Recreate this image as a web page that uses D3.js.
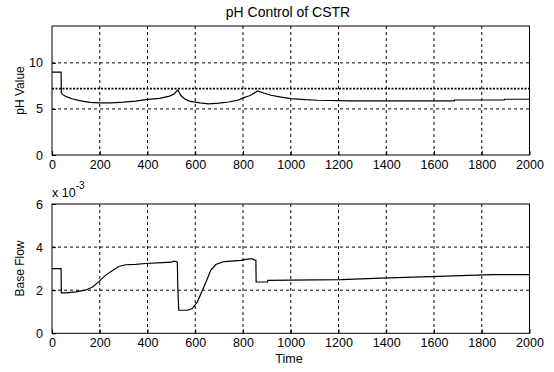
<!DOCTYPE html>
<html>
<head>
<meta charset="utf-8">
<script src="https://cdn.jsdelivr.net/npm/d3@7"></script>
<style>
  html, body { margin: 0; padding: 0; background: #fff; }
  svg { display: block; }
  text { font-family: "Liberation Sans", Arial, sans-serif; fill: #000; }
</style>
</head>
<body>
<svg id="chart" width="554" height="372"></svg>
<script>
// pH response of the CSTR over time
const phTime = [0, 38, 39, 45, 55, 68, 84, 120, 160, 200, 250, 300, 350, 392, 450, 489, 510, 527,
  540, 555, 575, 620, 655, 700, 740, 780, 800, 830, 861, 890, 917, 960, 1001, 1060, 1113, 1253,
  1500, 1685, 1686, 1895, 1896, 2000];
const phValue = [9, 9, 6.75, 6.55, 6.4, 6.25, 6.1, 5.88, 5.72, 5.65, 5.65, 5.73, 5.85, 6.0, 6.15, 6.37, 6.6, 7.05,
  6.45, 6.1, 5.85, 5.65, 5.55, 5.62, 5.75, 5.95, 6.2, 6.45, 6.95, 6.7, 6.48, 6.28, 6.12, 6.0, 5.94, 5.87,
  5.87, 5.87, 5.97, 5.97, 6.05, 6.05];
const phSetpoint = 7.2;

// base (titrant) flow applied by the controller
const flowTime = [0, 38, 39, 60, 100, 140, 170, 196, 225, 252, 280, 308, 350, 392, 462, 500, 511, 520,
  525, 527, 531, 567, 588, 609, 630, 651, 665, 686, 721, 791, 826, 840, 850, 854, 855, 903, 904,
  1000, 1211, 1379, 1617, 1842, 2000];
const flowValue = [0.0030, 0.0030, 0.00188, 0.00188, 0.00192, 0.0020, 0.00215, 0.0024, 0.0027, 0.0029, 0.0031, 0.00318,
  0.0032, 0.00324, 0.00328, 0.0033, 0.00335, 0.00333, 0.0033, 0.0021, 0.00107, 0.00107, 0.00115, 0.00146,
  0.0020, 0.00254, 0.00292, 0.00319, 0.00333, 0.00338, 0.00345, 0.00345, 0.0034, 0.0034, 0.00238, 0.00238,
  0.00246, 0.00247, 0.00249, 0.00256, 0.00264, 0.00272, 0.00272];

const timeTicks = [0, 200, 400, 600, 800, 1000, 1200, 1400, 1600, 1800, 2000];
const phTicks = [0, 5, 10];
const flowTicks = [0, 0.002, 0.004, 0.006];

const svg = d3.select("#chart");
const left = 52, right = 529.5;

function panel(top, bottom, yDomain, yTicks, yFmt) {
  const x = d3.scaleLinear().domain([0, 2000]).range([left, right]);
  const y = d3.scaleLinear().domain(yDomain).range([bottom, top]);
  const g = svg.append("g");

  // grid
  g.selectAll(".vg").data(timeTicks.slice(1, -1)).join("line")
    .attr("x1", d => x(d)).attr("x2", d => x(d))
    .attr("y1", top).attr("y2", bottom)
    .attr("stroke", "#000").attr("stroke-width", 1).attr("stroke-dasharray", "3,3");
  g.selectAll(".hg").data(yTicks.filter(t => t > yDomain[0] && t < yDomain[1])).join("line")
    .attr("x1", left).attr("x2", right)
    .attr("y1", d => y(d)).attr("y2", d => y(d))
    .attr("stroke", "#000").attr("stroke-width", 1).attr("stroke-dasharray", "3,3");

  // axes: ticks drawn inward, labels outside
  const xAxis = d3.axisBottom(x).tickValues(timeTicks).tickSize(-4).tickPadding(5).tickFormat(d3.format("d"));
  const yAxis = d3.axisLeft(y).tickValues(yTicks).tickSize(-4).tickPadding(9).tickFormat(yFmt);
  const xa = g.append("g").attr("transform", `translate(0,${bottom})`).call(xAxis);
  const ya = g.append("g").attr("transform", `translate(${left},0)`).call(yAxis);
  [xa, ya].forEach(a => {
    a.select(".domain").remove();
    a.selectAll("line").attr("stroke", "#000");
    a.selectAll("text").style("font-size", "12.5px").style("font-family", "Liberation Sans, Arial, sans-serif");
  });

  // box
  g.append("rect").attr("x", left).attr("y", top)
    .attr("width", right - left).attr("height", bottom - top)
    .attr("fill", "none").attr("stroke", "#000").attr("stroke-width", 1);

  return { g, x, y };
}

// top: pH
const p1 = panel(26, 155, [0, 14], phTicks, d3.format("d"));
p1.g.append("line")
  .attr("x1", left).attr("x2", right)
  .attr("y1", p1.y(phSetpoint)).attr("y2", p1.y(phSetpoint))
  .attr("stroke", "#000").attr("stroke-width", 1.6).attr("stroke-dasharray", "2,1.5");
p1.g.append("path")
  .datum(phTime.map((t, i) => [t, phValue[i]]))
  .attr("fill", "none").attr("stroke", "#000").attr("stroke-width", 1.2)
  .attr("d", d3.line().x(d => p1.x(d[0])).y(d => p1.y(d[1])));

// bottom: base flow
const p2 = panel(204, 333.3, [0, 0.006], flowTicks, d => d3.format("d")(Math.round(d * 1000)));
p2.g.append("path")
  .datum(flowTime.map((t, i) => [t, flowValue[i]]))
  .attr("fill", "none").attr("stroke", "#000").attr("stroke-width", 1.2)
  .attr("d", d3.line().x(d => p2.x(d[0])).y(d => p2.y(d[1])));

// titles and labels
svg.append("text").attr("x", 288).attr("y", 17).attr("text-anchor", "middle")
  .style("font-size", "14px").text("pH Control of CSTR");
svg.append("text").attr("transform", `translate(24,${(26 + 155) / 2}) rotate(-90)`)
  .attr("text-anchor", "middle").style("font-size", "12px").text("pH Value");
svg.append("text").attr("transform", `translate(24,${(204 + 333) / 2}) rotate(-90)`)
  .attr("text-anchor", "middle").style("font-size", "12px").text("Base Flow");
svg.append("text").attr("x", 289).attr("y", 363).attr("text-anchor", "middle")
  .style("font-size", "12.5px").text("Time");
const mult = svg.append("text").attr("x", 52).attr("y", 197).style("font-size", "12.5px");
mult.append("tspan").text("x 10");
mult.append("tspan").attr("dy", -8).style("font-size", "10px").text("-3");
</script>
</body>
</html>
